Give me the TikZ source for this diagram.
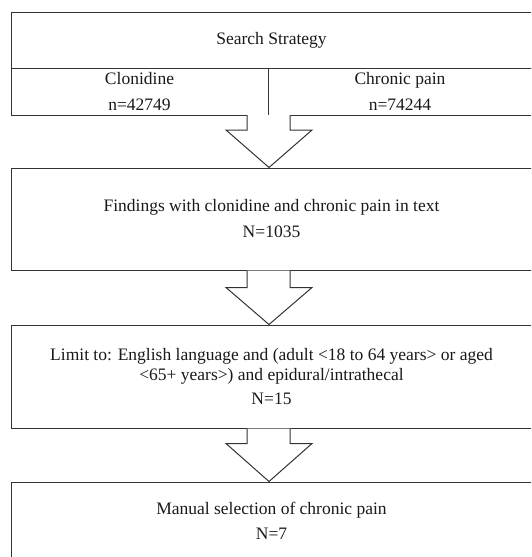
\documentclass[tikz,border=0pt]{standalone}
\usepackage{fontspec}
\setmainfont{Liberation Serif}
\usetikzlibrary{calc}
\begin{document}
\begin{tikzpicture}[x=1pt,y=-1pt,
  box/.style={draw=black!80,line width=1pt,inner sep=0pt,align=center,
    font=\fontsize{17.5}{20}\selectfont,text=black!90},
  blockarrow/.style={draw=black!80,line width=1pt,fill=white,line join=miter}]
\useasboundingbox (0,0) rectangle (531,557);
\clip (0,0) rectangle (531,557);
\node[box,minimum width=521,minimum height=56] (top) at (271.5,40) {Search Strategy};
\node[box,minimum width=257,minimum height=47] (clon) at (139.5,91.5) {Clonidine\\[6pt]n=42749};
\node[box,minimum width=264,minimum height=47] (pain) at (400,91.5) {Chronic pain\\[6pt]n=74244};
\node[box,minimum width=521,minimum height=102] (find) at (271.5,219) {Findings with clonidine and chronic pain in text\\[6pt]N=1035};
\node[box,minimum width=521,minimum height=103] (limit) at (271.5,376.5) {Limit to: English language and (adult <18 to 64 years> or aged\\<65+ years>) and epidural/intrathecal\\[4pt]N=15};
\node[box,minimum width=521,minimum height=78] (manual) at (271.5,521) {Manual selection of chronic pain\\[5pt]N=7};
\coordinate (s1) at (268.5,115);
\coordinate (s2) at ($(find.south)+(-3,0)$);
\coordinate (s3) at ($(limit.south)+(-3,0)$);
\draw[blockarrow] ($(s1)+(-21.5,0)$) -- ++(0,15) -- ++(-21,0) -- ($(find.north)+(-2.5,0)$) -- ($(s1)+(43.5,15)$) -- ++(-22,0) -- ++(0,-15);
\draw[blockarrow] ($(s2)+(-21.5,0)$) -- ++(0,17) -- ++(-21,0) -- ($(limit.north)+(-2.5,0)$) -- ($(s2)+(43.5,17)$) -- ++(-22,0) -- ++(0,-17);
\draw[blockarrow] ($(s3)+(-21.5,0)$) -- ++(0,15) -- ++(-21,0) -- ($(manual.north)+(-2.5,0)$) -- ($(s3)+(43.5,15)$) -- ++(-22,0) -- ++(0,-15);
\end{tikzpicture}
\end{document}
